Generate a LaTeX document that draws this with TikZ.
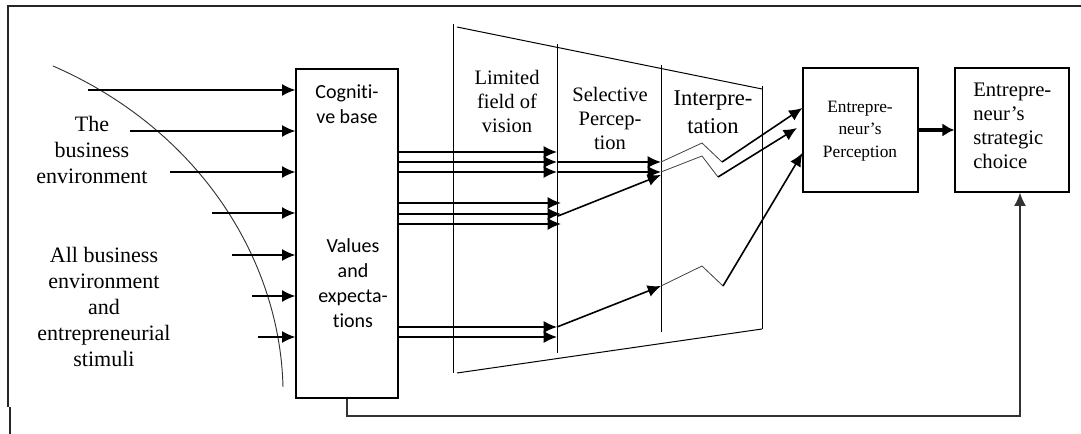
\documentclass[tikz,border=0pt]{standalone}
\usepackage{fontspec}
\setmainfont{Liberation Serif}
\newfontfamily\calfont[Ligatures=NoCommon]{Carlito}
\usetikzlibrary{arrows.meta}
\begin{document}
\begin{tikzpicture}[x=0.75pt,y=-0.75pt,
  arr/.style={-{Latex[length=10pt,width=9pt]}, line width=1.2pt},
  bigarr/.style={-{Latex[length=9pt,width=10pt]}, line width=3pt},
  zig/.style={line width=0.6pt, draw=black!75},
  box/.style={draw, line width=0.9pt, inner sep=0pt},
  frame/.style={line width=0.9pt, draw=black!85},
  trap/.style={line width=0.75pt},
  lbl/.style={align=center, inner sep=0pt}]
\useasboundingbox (0,0) rectangle (1081,434);

% frame
\draw[frame] (8,407) -- (8,6) -- (1081,6);
\draw[frame] (10,407) -- (10,434);

% boxes
\node[box, minimum width=76.5pt, minimum height=246.75pt] (cog) at (347,233.5) {};
\node[box, minimum width=86.25pt, minimum height=93pt] (perc) at (860.5,130) {};
\node[box, minimum width=85.5pt, minimum height=93pt] (strat) at (1012,130) {};

% texts
\node[lbl, font=\calfont\fontsize{15}{18.75}\selectfont] (cogt) at (347,104.5) {Cogniti-\\ve base};
\node[lbl, font=\calfont\fontsize{15}{18.75}\selectfont] (valt) at (353,283.5) {Values\\and\\expecta-\\tions};
\node[lbl, font=\fontsize{16.5}{19.5}\selectfont] (env) at (92,150) {The\\business\\environment};
\node[lbl, font=\fontsize{16.5}{19.5}\selectfont] (stim) at (104,307) {All business\\environment\\and\\entrepreneurial\\stimuli};
\node[lbl, font=\fontsize{15.4}{18}\selectfont] (lim) at (507,101) {Limited\\field of\\vision};
\node[lbl, font=\fontsize{15.4}{18}\selectfont] (sel) at (610,118) {Selective\\Percep-\\tion};
\node[lbl, font=\fontsize{16.9}{21}\selectfont] (int) at (713,112) {Interpre-\\tation};
\node[lbl, font=\fontsize{13}{17}\selectfont] (perct) at (860,131) {Entrepre-\\neur’s\\Perception};
\node[lbl, align=left, anchor=west, font=\fontsize{15.5}{18}\selectfont] (stratt) at (973,126) {Entrepre-\\neur’s\\strategic\\choice};

% boundary curve
\draw[line width=0.7pt, draw=black!80] (53,66) .. controls (200,130) and (280,260) .. (283,387);

% perception filter (trapezoid)
\coordinate (v1t) at (453,24);  \coordinate (v1b) at (453,373);
\coordinate (v2t) at (557,44);  \coordinate (v2b) at (557,353);
\coordinate (v3t) at (661,65);  \coordinate (v3b) at (661,332);
\coordinate (v4t) at (762,86);  \coordinate (v4b) at (762,329);
\draw[trap] (v1t) -- (v1b);
\draw[trap] (v2t) -- (v2b);
\draw[trap] (v3t) -- (v3b);
\draw[trap] (v4t) -- (v4b);
\draw[trap] (457,27) -- (762,89);
\draw[trap] (457,373) -- (v4b);

% stimuli into cognitive base
\foreach \sx/\y [count=\i] in {88/90,130/131,170/172,212/213,232/255,252/296,258/337}{
  \coordinate (in\i) at (\sx,\y);
  \draw[arr] (in\i) -- (in\i -| cog.west);
}

% cognitive base to limited field
\foreach \y in {152,162,172,327,337}{
  \draw[arr] (cog.east |- 0,\y) -- (v2t |- 0,\y);
}
\foreach \y in {203,214,224}{
  \draw[arr] (cog.east |- 0,\y) -- (561,\y);
}

% selective perception
\coordinate (a1) at (557,162); \coordinate (b1) at (661,162);
\coordinate (a2) at (557,172); \coordinate (b2) at (661,172);
\coordinate (a3) at (558,216); \coordinate (b3) at (661,175);
\coordinate (a4) at (557,327); \coordinate (b4) at (661,286);
\draw[arr] (a1) -- (b1);
\draw[arr] (a2) -- (b2);
\draw[arr] (a3) -- (b3);
\draw[arr] (a4) -- (b4);

% interpretation zigzags
\coordinate (p1) at (702,143); \coordinate (q1) at (722,162);
\coordinate (p2) at (702,156); \coordinate (q2) at (718,177);
\coordinate (p3) at (702,266); \coordinate (q3) at (723,286);
\draw[zig] (b1) -- (p1) -- (q1);
\draw[zig] (b2) -- (p2) -- (q2);
\draw[zig] (b4) -- (p3) -- (q3);
\draw[arr] (q1) -- (perc.west |- 0,108);
\draw[arr] (q2) -- (797,128);
\draw[arr] (q3) -- (perc.west |- 0,153);

% perception to strategic choice
\draw[bigarr] (perc.east) -- (strat.west);

% feedback
\coordinate (fb) at (1020,416);
\draw[arr, draw=black!80] (cog.south) |- (fb) -- (fb |- strat.south);
\end{tikzpicture}
\end{document}
